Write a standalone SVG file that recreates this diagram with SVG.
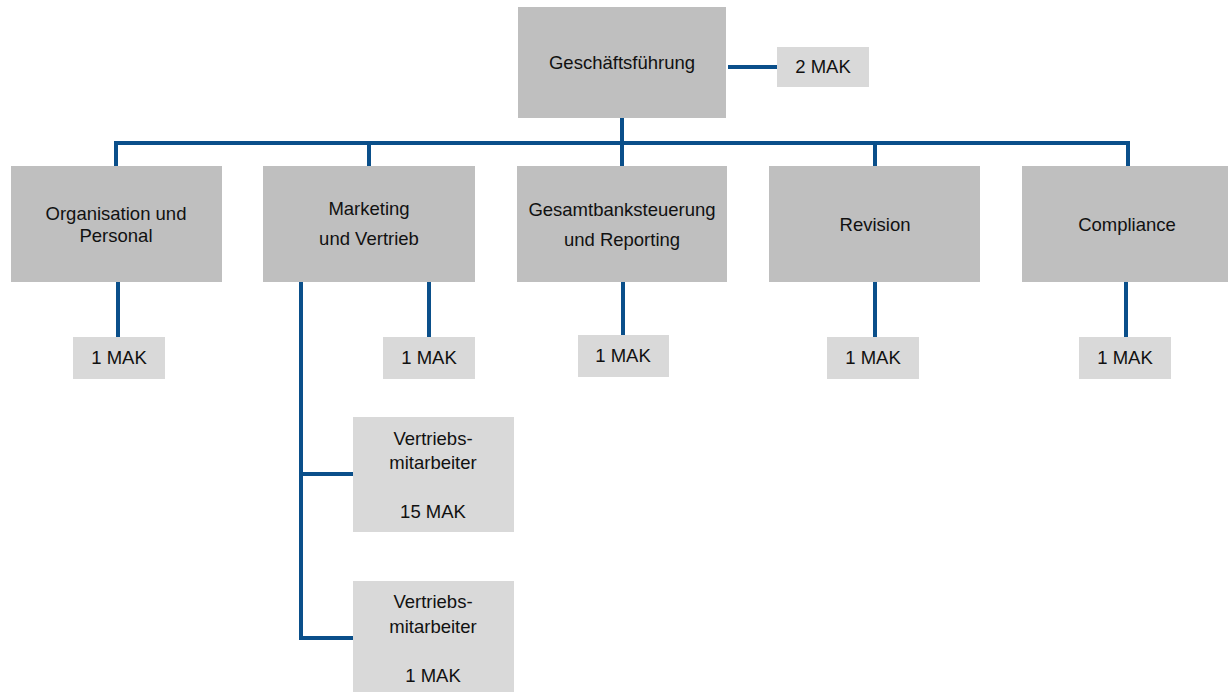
<svg xmlns="http://www.w3.org/2000/svg" width="1228" height="692" viewBox="0 0 1228 692">
  <style>
    .unit { fill: #bfbfbf; }
    .staff { fill: #d9d9d9; }
    .lbl { font-family: "Liberation Sans", Arial, sans-serif; font-size: 18.5px; fill: #111; text-anchor: middle; }
    .link { fill: none; stroke: #0a4f8a; stroke-width: 4; stroke-linejoin: miter; stroke-linecap: butt; }
  </style>
  <rect width="1228" height="692" fill="#ffffff"/>

  <!-- connectors -->
  <g id="connectors" class="link">
    <path d="M622 118 V143"/>
    <path d="M728 67 H777"/>
    <path d="M116 166 V143 H1128 V166"/>
    <path d="M369 143 V166"/>
    <path d="M622 143 V166"/>
    <path d="M875 143 V166"/>
    <path d="M118 282 V337"/>
    <path d="M429 282 V337"/>
    <path d="M623 282 V335"/>
    <path d="M875 282 V337"/>
    <path d="M1126 282 V337"/>
    <path d="M301 282 V638 H353"/>
    <path d="M301 474 H353"/>
  </g>

  <g id="geschaeftsfuehrung">
    <rect class="unit" x="518" y="7" width="208" height="111"/>
    <text class="lbl" x="622" y="69">Geschäftsführung</text>
  </g>
  <g id="gf-mak">
    <rect class="staff" x="777" y="47" width="92" height="40"/>
    <text class="lbl" x="823" y="73">2 MAK</text>
  </g>

  <g id="organisation">
    <rect class="unit" x="11" y="166" width="211" height="116"/>
    <text class="lbl" x="116" y="220">Organisation und</text>
    <text class="lbl" x="116" y="242">Personal</text>
  </g>
  <g id="organisation-mak">
    <rect class="staff" x="73" y="337" width="92" height="42"/>
    <text class="lbl" x="119" y="364">1 MAK</text>
  </g>

  <g id="marketing">
    <rect class="unit" x="263" y="166" width="212" height="116"/>
    <text class="lbl" x="369" y="215">Marketing</text>
    <text class="lbl" x="369" y="245">und Vertrieb</text>
  </g>
  <g id="marketing-mak">
    <rect class="staff" x="383" y="337" width="92" height="42"/>
    <text class="lbl" x="429" y="364">1 MAK</text>
  </g>

  <g id="gesamtbanksteuerung">
    <rect class="unit" x="517" y="166" width="210" height="116"/>
    <text class="lbl" x="622" y="216">Gesamtbanksteuerung</text>
    <text class="lbl" x="622" y="246">und Reporting</text>
  </g>
  <g id="gesamtbanksteuerung-mak">
    <rect class="staff" x="578" y="335" width="91" height="42"/>
    <text class="lbl" x="623" y="362">1 MAK</text>
  </g>

  <g id="revision">
    <rect class="unit" x="769" y="166" width="211" height="116"/>
    <text class="lbl" x="875" y="231">Revision</text>
  </g>
  <g id="revision-mak">
    <rect class="staff" x="827" y="337" width="92" height="42"/>
    <text class="lbl" x="873" y="364">1 MAK</text>
  </g>

  <g id="compliance">
    <rect class="unit" x="1022" y="166" width="211" height="116"/>
    <text class="lbl" x="1127" y="231">Compliance</text>
  </g>
  <g id="compliance-mak">
    <rect class="staff" x="1079" y="337" width="92" height="42"/>
    <text class="lbl" x="1125" y="364">1 MAK</text>
  </g>

  <g id="vertrieb-15">
    <rect class="staff" x="353" y="417" width="161" height="115"/>
    <text class="lbl" x="433" y="445">Vertriebs-</text>
    <text class="lbl" x="433" y="469">mitarbeiter</text>
    <text class="lbl" x="433" y="518">15 MAK</text>
  </g>

  <g id="vertrieb-1">
    <rect class="staff" x="353" y="581" width="161" height="115"/>
    <text class="lbl" x="433" y="608">Vertriebs-</text>
    <text class="lbl" x="433" y="633">mitarbeiter</text>
    <text class="lbl" x="433" y="682">1 MAK</text>
  </g>
</svg>
